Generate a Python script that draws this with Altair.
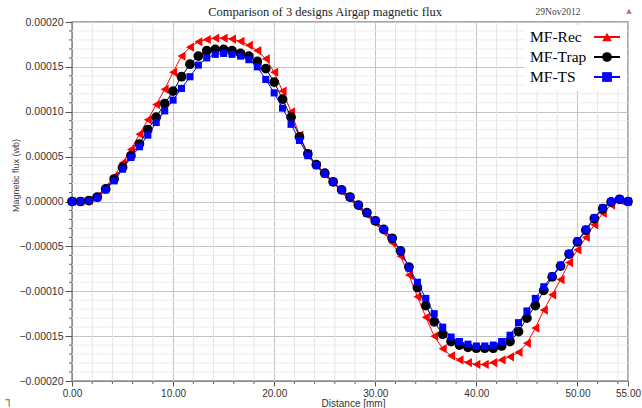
import altair as alt
import pandas as pd

# Sample positions along the airgap (mm)
distance_mm = [
    0.00, 0.83, 1.67, 2.50, 3.33, 4.17, 5.00, 5.83, 6.67, 7.50,
    8.33, 9.17, 10.00, 10.83, 11.67, 12.50, 13.33, 14.17, 15.00, 15.83,
    16.67, 17.50, 18.33, 19.17, 20.00, 20.83, 21.67, 22.50, 23.33, 24.17,
    25.00, 25.83, 26.67, 27.50, 28.33, 29.17, 30.00, 30.83, 31.67, 32.50,
    33.33, 34.17, 35.00, 35.83, 36.67, 37.50, 38.33, 39.17, 40.00, 40.83,
    41.67, 42.50, 43.33, 44.17, 45.00, 45.83, 46.67, 47.50, 48.33, 49.17,
    50.00, 50.83, 51.67, 52.50, 53.33, 54.17, 55.00,
]

# Flux values, in units of 1e-5 Wb
FLUX_UNIT = 1e-5
mf_rec = [
    0.0, 0.0, 0.15, 0.6, 1.6, 2.8, 4.3, 5.8, 7.5, 9.1,
    10.8, 12.5, 14.4, 16.2, 17.2, 17.8, 18.05, 18.2, 18.2, 18.1,
    17.85, 17.4, 16.8, 15.9, 14.4, 12.3, 10.0, 7.4, 5.3, 4.0,
    3.0, 2.1, 1.1, 0.3, -0.6, -1.5, -2.4, -3.4, -4.6, -6.1,
    -8.2, -10.6, -12.9, -15.0, -16.4, -17.2, -17.65, -17.95, -18.15, -18.15,
    -17.95, -17.65, -17.3, -16.8, -15.8, -14.1, -12.1, -10.4, -8.7, -6.8,
    -5.4, -4.0, -2.6, -1.3, -0.4, 0.1, 0.0,
]
mf_trap = [
    0.0, 0.0, 0.1, 0.5, 1.4, 2.5, 3.8, 5.1, 6.4, 8.0,
    9.4, 10.9, 12.3, 13.9, 15.3, 16.2, 16.8, 16.95, 16.95, 16.8,
    16.5, 16.2, 15.6, 14.8, 13.3, 11.4, 9.4, 7.2, 5.3, 4.1,
    3.15, 2.2, 1.3, 0.5, -0.4, -1.25, -2.15, -3.1, -4.1, -5.5,
    -7.3, -9.6, -11.6, -13.4, -14.8, -15.6, -16.0, -16.25, -16.35, -16.35,
    -16.35, -16.1, -15.6, -14.5, -13.0, -11.6, -9.9, -8.4, -7.2, -5.85,
    -4.5, -3.2, -1.9, -0.8, -0.05, 0.25, 0.0,
]
mf_ts = [
    0.0, 0.0, 0.1, 0.4, 1.3, 2.3, 3.6, 4.9, 6.1, 7.4,
    8.8, 10.1, 11.3, 12.6, 13.9, 15.2, 16.0, 16.4, 16.5, 16.4,
    16.2, 15.8, 15.0, 13.6, 12.1, 10.4, 8.6, 6.8, 5.1, 4.0,
    3.1, 2.2, 1.3, 0.5, -0.4, -1.25, -2.1, -3.1, -4.1, -5.5,
    -7.4, -9.0, -10.8, -12.5, -14.0, -15.1, -15.6, -15.9, -16.1, -16.1,
    -16.0, -15.6, -14.9, -13.5, -12.2, -10.8, -9.5, -8.3, -7.1, -5.8,
    -4.4, -3.1, -1.8, -0.7, 0.0, 0.25, 0.0,
]

series_names = ["MF-Rec", "MF-Trap", "MF-TS"]
series_values = [mf_rec, mf_trap, mf_ts]
series_colors = ["#ff0000", "#000000", "#0000ff"]
series_shapes = ["triangle-left", "circle", "square"]
series_sizes = [85, 95, 50]
legend_shapes = ["triangle-up", "circle", "square"]

# Axis tick values
x_major = [0, 10, 20, 30, 40, 50, 55]
x_minor = [2, 4, 6, 8, 12, 14, 16, 18, 22, 24, 26, 28, 32, 34, 36, 38,
           42, 44, 46, 48, 52, 54]
y_major = [-0.0002, -0.00015, -0.0001, -0.00005, 0.0, 0.00005, 0.0001, 0.00015, 0.0002]
y_minor = [v * FLUX_UNIT for v in
           [-19, -18, -17, -16, -14, -13, -12, -11, -9, -8, -7, -6, -4, -3, -2, -1,
            1, 2, 3, 4, 6, 7, 8, 9, 11, 12, 13, 14, 16, 17, 18, 19]]

W, H = 556, 359
LABEL_FONT = "Liberation Sans"
SERIF = "Liberation Serif"

x_scale = alt.Scale(domain=[0, 55], nice=False, zero=False)
y_scale = alt.Scale(domain=[-0.0002, 0.0002], nice=False, zero=False)

x_axis = alt.Axis(
    values=x_major, format=".2f", grid=True, gridColor="#c4c4c4", gridWidth=1,
    tickSize=5, tickColor="#555", domainColor="#8c8c8c",
    labelFont=LABEL_FONT, labelFontSize=10, labelColor="#333", labelPadding=2,
    labelFlush=False, labelOverlap=False,
    title="Distance [mm]", titleFont=LABEL_FONT, titleFontSize=10,
    titleFontWeight="normal", titleColor="#333",
    titleX=281, titleY=22, titleBaseline="middle",
)
y_axis = alt.Axis(
    values=y_major, format=".5f", grid=True, gridColor="#c4c4c4", gridWidth=1,
    tickSize=7, tickColor="#555", domainColor="#8c8c8c",
    labelFont=LABEL_FONT, labelFontSize=10.5, labelColor="#333", labelPadding=2,
    labelFlush=False, labelOverlap=False,
    title="Magnetic flux (wb)", titleFont=LABEL_FONT, titleFontSize=9,
    titleFontWeight="normal", titleColor="#444",
    titleX=-57, titleY=153, titleBaseline="middle", titleAlign="center",
)


def xenc(field):
    return alt.X(field, scale=x_scale, axis=x_axis)


def yenc(field):
    return alt.Y(field, scale=y_scale, axis=y_axis)


# Minor grid lines and ticks
xmin_df = pd.DataFrame({"d": x_minor})
ymin_df = pd.DataFrame({"f": y_minor})

x_minor_grid = alt.Chart(xmin_df).mark_rule(color="#e4e4e4", strokeWidth=1).encode(
    x=xenc("d:Q"))
y_minor_grid = alt.Chart(ymin_df).mark_rule(color="#ececec", strokeWidth=1).encode(
    y=yenc("f:Q"))
x_minor_ticks = alt.Chart(xmin_df).mark_rule(color="#666", strokeWidth=1).encode(
    x=xenc("d:Q"), y=alt.value(H), y2=alt.value(H + 3))
y_minor_ticks = alt.Chart(ymin_df).mark_rule(color="#666", strokeWidth=1).encode(
    y=yenc("f:Q"), x=alt.value(-3), x2=alt.value(0))

layers = [x_minor_grid, y_minor_grid, x_minor_ticks, y_minor_ticks]

for name, vals, color, shape, size in zip(series_names, series_values,
                                          series_colors, series_shapes, series_sizes):
    df = pd.DataFrame({"distance": distance_mm,
                       "flux": [v * FLUX_UNIT for v in vals],
                       "series": name})
    enc = dict(x=xenc("distance:Q"), y=yenc("flux:Q"))
    layers.append(alt.Chart(df).mark_line(color=color, strokeWidth=1).encode(**enc))
    layers.append(alt.Chart(df).mark_point(shape=shape, filled=True, size=size,
                                           color=color, opacity=1).encode(**enc))

# Legend box (top right inside the plot)
legend_df = pd.DataFrame({
    "label": series_names,
    "row": [15, 35, 55],
    "color": series_colors,
    "shape": legend_shapes,
})
legend_box = alt.Chart(pd.DataFrame({"a": [0]})).mark_rect(color="white").encode(
    x=alt.value(452), x2=alt.value(555), y=alt.value(3), y2=alt.value(69))
legend_text = alt.Chart(legend_df).mark_text(
    font=SERIF, fontSize=15.5, align="left", baseline="middle", color="#000"
).encode(x=alt.value(458), y=alt.Y("row:Q", scale=None), text="label:N")
legend_line = alt.Chart(legend_df).mark_rule(strokeWidth=2).encode(
    x=alt.value(522), x2=alt.value(548), y=alt.Y("row:Q", scale=None),
    color=alt.Color("color:N", scale=None))
legend_marker = alt.Chart(legend_df).mark_point(filled=True, size=95, opacity=1).encode(
    x=alt.value(535), y=alt.Y("row:Q", scale=None),
    color=alt.Color("color:N", scale=None), shape=alt.Shape("shape:N", scale=None))

# Header texts
title_df = pd.DataFrame({"t": ["Comparison of 3 designs Airgap magnetic flux"]})
title_text = alt.Chart(title_df).mark_text(
    font=SERIF, fontSize=12.5, color="#222", align="center", baseline="middle"
).encode(x=alt.value(253), y=alt.value(-10), text="t:N")
date_df = pd.DataFrame({"t": ["29Nov2012"]})
date_text = alt.Chart(date_df).mark_text(
    font=SERIF, fontSize=9.5, color="#444", align="center", baseline="middle"
).encode(x=alt.value(486), y=alt.value(-10), text="t:N")
logo_df = pd.DataFrame({"t": ["▲"]})
logo_text = alt.Chart(logo_df).mark_text(
    font="DejaVu Sans", fontSize=7, color="#c87070", align="center", baseline="middle"
).encode(x=alt.value(557), y=alt.value(-11), text="t:N")
corner_df = pd.DataFrame({"t": ["┐"]})
corner_text = alt.Chart(corner_df).mark_text(
    font="DejaVu Sans", fontSize=12, color="#666", align="center", baseline="middle"
).encode(x=alt.value(-63), y=alt.value(378), text="t:N")

layers += [legend_box, legend_line, legend_marker, legend_text,
           title_text, date_text, logo_text, corner_text]

chart = alt.layer(*layers).properties(
    width=W, height=H,
    autosize=alt.AutoSizeParams(type="none"),
    padding={"left": 72, "top": 22, "right": 14, "bottom": 27},
    background="white",
).configure_view(stroke="#8c8c8c", strokeWidth=1.5)

chart.save("out.html", embed_options={"renderer": "svg", "actions": False})
